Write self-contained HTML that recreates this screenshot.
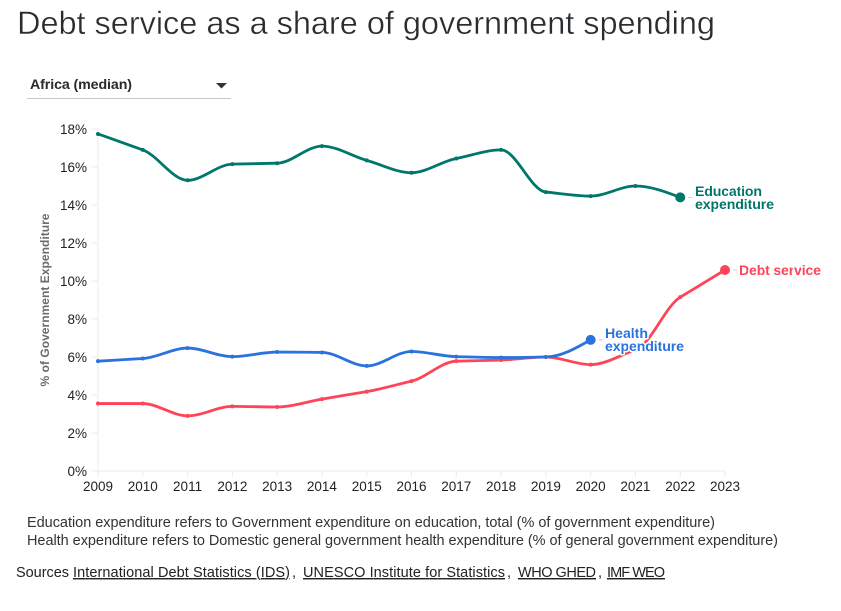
<!DOCTYPE html>
<html lang="en">
<head>
<meta charset="utf-8">
<title>Debt service as a share of government spending</title>
<style>
html,body{margin:0;padding:0;background:#fff;width:841px;height:611px;overflow:hidden}
svg{display:block;font-family:"Liberation Sans",sans-serif}
.tick{font-size:13.5px;fill:#222}
.note{font-size:14.5px;fill:#333}
.src{font-size:14.5px;fill:#222}
.link{text-decoration:underline;cursor:pointer}
.lab{font-size:14.2px;font-weight:700;paint-order:stroke;stroke:#fff;stroke-width:3px;stroke-linejoin:round}
</style>
</head>
<body>
<svg id="chart" width="841" height="611" viewBox="0 0 841 611" xmlns="http://www.w3.org/2000/svg">
  <text x="17" y="34" font-size="32.5" fill="#2a2d30" stroke="#fff" stroke-width="0.4" textLength="698" lengthAdjust="spacing">Debt service as a share of government spending</text>

  <g style="cursor:pointer">
    <text x="30" y="89" font-size="14.2" font-weight="700" fill="#2a2a2a" textLength="102" lengthAdjust="spacing">Africa (median)</text>
    <polygon points="216,83 227,83 221.5,88.5" fill="#333"/>
    <line x1="27" x2="231" y1="98.5" y2="98.5" stroke="#c8c8c8" stroke-width="1"/>
  </g>

  <text transform="translate(49,300) rotate(-90)" text-anchor="middle" font-size="12" font-weight="700" fill="#6b6b6b" textLength="173" lengthAdjust="spacing">% of Government Expenditure</text>

  <g id="axes"></g>
  <g id="series"></g>

  <g>
    <text class="lab" fill="#00776b"><tspan x="695" y="196" textLength="67" lengthAdjust="spacing">Education</tspan><tspan x="695" y="209" textLength="79" lengthAdjust="spacing">expenditure</tspan></text>
    <text class="lab" fill="#ff4358" x="739" y="275" textLength="82" lengthAdjust="spacing">Debt service</text>
    <text class="lab" fill="#2a72de"><tspan x="605" y="338" textLength="43" lengthAdjust="spacing">Health</tspan><tspan x="605" y="351" textLength="79" lengthAdjust="spacing">expenditure</tspan></text>
  </g>

  <text class="note" x="27" y="527" textLength="688" lengthAdjust="spacing">Education expenditure refers to Government expenditure on education, total (% of government expenditure)</text>
  <text class="note" x="27" y="545" textLength="751" lengthAdjust="spacing">Health expenditure refers to Domestic general government health expenditure (% of general government expenditure)</text>

  <text class="src" x="16" y="577" textLength="53" lengthAdjust="spacing">Sources</text>
  <text class="src link" x="73" y="577" textLength="217" lengthAdjust="spacing">International Debt Statistics (IDS)</text>
  <text class="src" x="292" y="577">,</text>
  <text class="src link" x="303" y="577" textLength="202" lengthAdjust="spacing">UNESCO Institute for Statistics</text>
  <text class="src" x="507" y="577">,</text>
  <text class="src link" x="518" y="577" textLength="78" lengthAdjust="spacing">WHO GHED</text>
  <text class="src" x="598" y="577">,</text>
  <text class="src link" x="607" y="577" textLength="58" lengthAdjust="spacing">IMF WEO</text>
</svg>
<script>
const years = [2009,2010,2011,2012,2013,2014,2015,2016,2017,2018,2019,2020,2021,2022,2023];
const yTickValues = [0,2,4,6,8,10,12,14,16,18];
const educationValues = [17.74,16.9,15.3,16.15,16.2,17.1,16.35,15.7,16.45,16.9,14.68,14.47,15.0,14.4];
const healthValues = [5.78,5.92,6.47,6.02,6.26,6.24,5.53,6.29,6.02,5.97,6.0,6.9];
const debtValues = [3.55,3.55,2.9,3.4,3.37,3.78,4.18,4.73,5.78,5.84,6.0,5.6,6.37,9.15,10.58];

const NS = 'http://www.w3.org/2000/svg';
const xScale = function (year) { return 98 + (year - 2009) * (725 - 98) / 14; };
const yScale = function (v) { return 471 - v * 19; };

function mk(parent, tag, attrs) {
  const el = document.createElementNS(NS, tag);
  for (const k in attrs) el.setAttribute(k, attrs[k]);
  parent.appendChild(el);
  return el;
}

function monotonePath(pts) {
  const n = pts.length;
  const d = [], m = [];
  for (let i = 0; i < n - 1; i++) d.push((pts[i + 1][1] - pts[i][1]) / (pts[i + 1][0] - pts[i][0]));
  m[0] = d[0];
  m[n - 1] = d[n - 2];
  for (let i = 1; i < n - 1; i++) {
    if (d[i - 1] * d[i] <= 0) m[i] = 0;
    else m[i] = Math.sign(d[i]) * Math.min(Math.abs(d[i - 1]), Math.abs(d[i]), 0.5 * Math.abs(d[i - 1] + d[i]));
  }
  m[0] = (3 * d[0] - m[1]) / 2;
  m[n - 1] = (3 * d[n - 2] - m[n - 2]) / 2;
  let p = 'M' + pts[0][0] + ',' + pts[0][1];
  for (let i = 0; i < n - 1; i++) {
    const h = (pts[i + 1][0] - pts[i][0]) / 3;
    p += 'C' + (pts[i][0] + h) + ',' + (pts[i][1] + m[i] * h) + ' ' + (pts[i + 1][0] - h) + ',' + (pts[i + 1][1] - m[i + 1] * h) + ' ' + pts[i + 1][0] + ',' + pts[i + 1][1];
  }
  return p;
}

const axes = document.getElementById('axes');
const seriesGroup = document.getElementById('series');

const yAxisLine = mk(axes, 'line', {x1: xScale(2009), x2: xScale(2009), y1: yScale(18), y2: yScale(0), stroke: '#ebebeb', 'stroke-width': 1});


const xAxisLine = mk(axes, 'line', {x1: xScale(2009), x2: xScale(2023), y1: yScale(0), y2: yScale(0), stroke: '#ebebeb', 'stroke-width': 1});



yTickValues.forEach(function (v) {
  const t = mk(axes, 'line', {x1: xScale(2009) - 6, x2: xScale(2009), y1: yScale(v), y2: yScale(v), stroke: '#ebebeb', 'stroke-width': 1});
  
  
  const l = mk(axes, 'text', {x: 87, y: yScale(v) + 5, 'text-anchor': 'end', class: 'tick'});
  
  
  l.textContent = v + '%';
});

years.forEach(function (yr) {
  const t = mk(axes, 'line', {x1: xScale(yr), x2: xScale(yr), y1: yScale(0), y2: yScale(0) + 6, stroke: '#ebebeb', 'stroke-width': 1});
  
  
  const l = mk(axes, 'text', {x: xScale(yr), y: 491, 'text-anchor': 'middle', class: 'tick'});
  
  
  l.textContent = yr;
});

function drawSeries(values, color, name) {
  const pts = values.map(function (v, i) { return [xScale(years[i]), yScale(v)]; });
  const line = mk(seriesGroup, 'path', {d: monotonePath(pts), fill: 'none', stroke: color, 'stroke-width': 2.8, 'stroke-linejoin': 'round', 'stroke-linecap': 'round'});
  
  
  pts.forEach(function (p, i) {
    const last = i === pts.length - 1;
    const dot = mk(seriesGroup, 'circle', {cx: p[0], cy: p[1], r: last ? 5 : 2, fill: color});
    
    
    if (last) {
      const c = mk(seriesGroup, 'line', {x1: p[0] + 8, x2: p[0] + 12, y1: p[1], y2: p[1], stroke: '#ccc', 'stroke-width': 1});
      
      
    }
  });
}

drawSeries(educationValues, '#00776b', 'education');
drawSeries(debtValues, '#ff4358', 'debt-service');
drawSeries(healthValues, '#2a72de', 'health');
</script>
</body>
</html>
